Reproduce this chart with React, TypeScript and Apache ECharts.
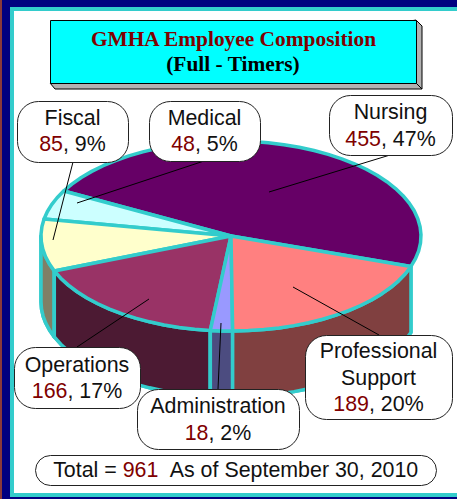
import React, { useEffect, useRef } from "react";
import * as echarts from "echarts";

const categories = ["Nursing", "Medical", "Fiscal", "Operations", "Administration", "Professional\nSupport"];
const counts = [455, 48, 85, 166, 18, 189];
const percents = [47, 5, 9, 17, 2, 20];
const topColors = ["#660066", "#ccffff", "#ffffcc", "#993366", "#9999ff", "#ff8080"];
const wallColors = ["#330033", "#668080", "#808066", "#4c1a33", "#4c4c80", "#804040"];
const totalLabel = "961";
const titleLines = ["GMHA Employee Composition", "(Full - Timers)"];
const asOfLabel = "As of September 30, 2010";

const TEAL = "#33cccc";
const CX = 231, CY = 236, RX = 190, RY = 95, DEPTH = 66, START = -18.7;
const FONT = '"Liberation Sans", Arial, sans-serif';
const SERIF = '"Liberation Serif", "Times New Roman", serif';

const total = counts.reduce((a, b) => a + b, 0);
const startOf = (i: number) => START + (counts.slice(0, i).reduce((a, b) => a + b, 0) / total) * 360;
const pt = (deg: number, dy = 0): number[] => {
  const r = (deg * Math.PI) / 180;
  return [CX + RX * Math.cos(r), CY - RY * Math.sin(r) + dy];
};
const arc = (a: number, b: number, dy = 0) => {
  const n = Math.max(2, Math.ceil(Math.abs(b - a) / 5));
  const out: number[][] = [];
  for (let k = 0; k <= n; k++) out.push(pt(a + ((b - a) * k) / n, dy));
  return out;
};

const renderTop = (params: any, api: any) => {
  const i = params.dataIndex;
  const a = startOf(i);
  const b = a + (api.value(0) / total) * 360;
  return {
    type: "polygon",
    shape: { points: [[CX, CY], ...arc(a, b)] },
    style: { fill: topColors[i], stroke: TEAL, lineWidth: 3.5, lineJoin: "round" },
  };
};

const renderWall = (params: any, api: any) => {
  const i = params.dataIndex;
  const a0 = startOf(i);
  const b0 = a0 + (api.value(0) / total) * 360;
  // only the part of the rim that faces the viewer (180..360 degrees)
  const spans: number[][] = [];
  for (const shift of [0, -360]) {
    const a = Math.max(a0 + shift, shift === 0 ? 180 : -180);
    const b = Math.min(b0 + shift, shift === 0 ? 360 : 0);
    if (b > a) spans.push([a, b]);
  }
  const children: any[] = [];
  spans.forEach(([a, b]) => {
    children.push({
      type: "polygon",
      shape: { points: [...arc(a, b), ...arc(b, a, DEPTH)] },
      style: { fill: wallColors[i], stroke: TEAL, lineWidth: 3.5, lineJoin: "round" },
    });
  });
  // the wall that reaches the right-hand extreme keeps no teal on its outer edge
  spans.forEach(([a, b]) => {
    if (Math.abs(b) < 0.001) {
      children[0] = {
        type: "polygon",
        shape: { points: [...arc(a, b), ...arc(b, a, DEPTH)] },
        style: { fill: wallColors[i] },
      };
      children.push({
        type: "polyline",
        shape: { points: [pt(a), ...arc(a, b, DEPTH)] },
        style: { fill: "none", stroke: TEAL, lineWidth: 3.5, lineJoin: "round" },
      });
    }
  });
  return { type: "group", children };
};

const frame = [
  { type: "rect", z: 0, shape: { x: 0, y: 0, width: 457, height: 499 }, style: { fill: "#000080" } },
  { type: "rect", z: 0, shape: { x: 0, y: 0, width: 2, height: 499 }, style: { fill: "#8a3a3a" } },
  { type: "rect", z: 0, shape: { x: 10, y: 7, width: 447, height: 490 }, style: { fill: TEAL } },
  { type: "rect", z: 0, shape: { x: 14, y: 11, width: 443, height: 482 }, style: { fill: "#ffffff" } },
];

const titleBox = [
  { type: "polygon", z: 10, shape: { points: [[50, 83], [55, 89], [422, 89], [422, 26], [416, 20]] }, style: { fill: "#b2b2b2", stroke: "#000", lineWidth: 1 } },
  { type: "line", z: 10, shape: { x1: 416, y1: 83, x2: 422, y2: 89 }, style: { stroke: "#000", lineWidth: 1 } },
  { type: "rect", z: 10, shape: { x: 50.5, y: 20.5, width: 366, height: 63 }, style: { fill: "#00ffff", stroke: "#000", lineWidth: 1 } },
  { type: "text", z: 11, style: { x: 233.5, y: 39, text: titleLines[0], font: `bold 21.4px ${SERIF}`, fill: "#800000", align: "center", verticalAlign: "middle" } },
  { type: "text", z: 11, style: { x: 233, y: 64, text: titleLines[1], font: `bold 21.4px ${SERIF}`, fill: "#000000", align: "center", verticalAlign: "middle" } },
];

// box [x, y, w, h], leader [x1, y1, x2, y2], text shift, per category
const boxes = [
  [329, 95, 123, 60], [149, 101, 111, 60], [17, 101, 111, 61],
  [14, 347, 126, 61], [137, 389, 162, 60], [305, 335, 147, 84],
];
const leaders = [
  [390, 155, 269, 192], [204, 161, 77, 203], [73, 162, 53, 240],
  [77, 347, 149, 299], [218, 389, 221, 323], [379, 335, 293, 287],
];
const textShift = [0, -0.5, -1, 0, 0, 0];
const rich = {
  a: { font: `21.4px ${FONT}`, fill: "#111111", lineHeight: 26.6 },
  v: { font: `21.4px ${FONT}`, fill: "#800000", lineHeight: 26.6 },
};

const callouts = categories.flatMap((name, i) => {
  const [x, y, w, h] = boxes[i];
  const [x1, y1, x2, y2] = leaders[i];
  const nameText = name.split("\n").map((s) => `{a|${s}}`).join("\n");
  return [
    { type: "line", z: 12, shape: { x1, y1, x2, y2 }, style: { stroke: "#000", lineWidth: 1 } },
    { type: "rect", z: 13, shape: { x: x + 0.5, y: y + 0.5, width: w, height: h, r: 21 }, style: { fill: "#fff", stroke: "#222", lineWidth: 1 } },
    {
      type: "text", z: 14,
      style: {
        x: x + w / 2, y: y + h / 2 + 0.5 + textShift[i], align: "center", verticalAlign: "middle",
        text: `${nameText}\n{v|${counts[i]}}{a|, ${percents[i]}%}`, rich,
      },
    },
  ];
});

const totalBox = [
  { type: "rect", z: 13, shape: { x: 35.5, y: 455.5, width: 401, height: 30, r: 15 }, style: { fill: "#fff", stroke: "#222", lineWidth: 1 } },
  {
    type: "text", z: 14,
    style: {
      x: 236, y: 470, align: "center", verticalAlign: "middle",
      text: `{a|Total = }{v|${totalLabel}}{a|  ${asOfLabel}}`, rich,
    },
  },
];

export default function App() {
  const ref = useRef<HTMLDivElement>(null);
  useEffect(() => {
    document.body.style.margin = "0";
    document.body.style.overflow = "hidden";
    const chart = echarts.init(ref.current!, undefined, { renderer: "svg" });
    chart.setOption({
      animation: false,
      graphic: { elements: [...frame, ...titleBox, ...callouts, ...totalBox] },
      series: [
        { type: "custom", coordinateSystem: "none", z: 2, silent: true, renderItem: renderWall, data: counts.map((v) => [v]) },
        { type: "custom", coordinateSystem: "none", z: 3, silent: true, renderItem: renderTop, data: counts.map((v) => [v]) },
      ],
    });
    return () => chart.dispose();
  }, []);
  return <div ref={ref} style={{ width: 457, height: 499 }} />;
}
